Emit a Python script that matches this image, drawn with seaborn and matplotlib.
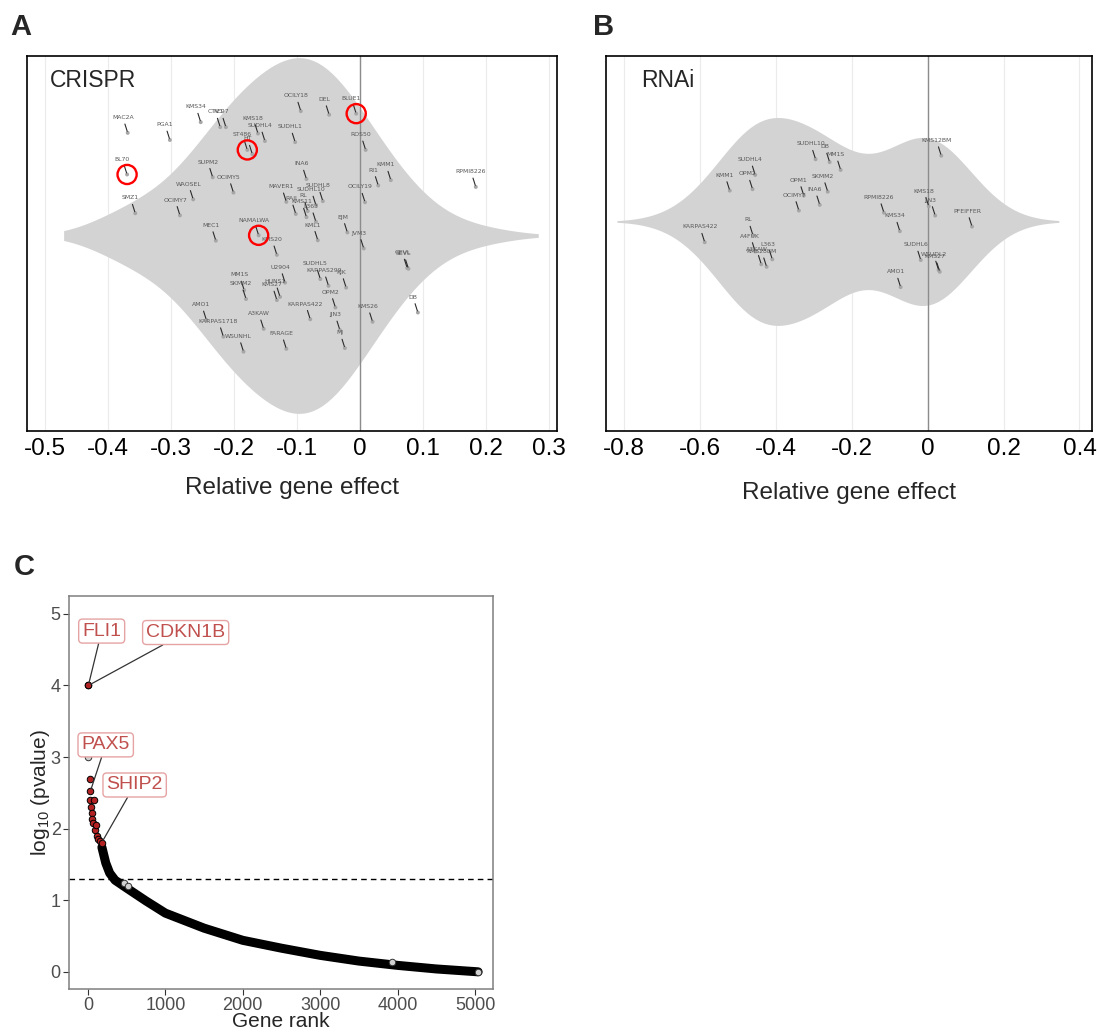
import numpy as np
import pandas as pd
import matplotlib
matplotlib.use("Agg")
import matplotlib.pyplot as plt
import seaborn as sns

# ---------------- data ----------------
# Panel A (CRISPR): cell line, relative gene effect, vertical jitter (violin-width units)
crispr_lines = ["MAC2A", "PGA1", "KMS34", "CTV1", "KE97", "KMS18", "SUDHL4", "ST486", "HT",
                "BL70", "SUPM2", "OCIMY5", "WAOSEL", "SMZ1", "OCIMY7", "MAVER1", "MEC1",
                "NAMALWA", "KMS20", "OCILY18", "DEL", "BLUE1", "SUDHL1", "ROS50", "INA6",
                "RI1", "KMM1", "RPMI8226", "SUDHL8", "SUDHL10", "RAJI", "KMS11", "RL", "L363",
                "KML1", "OCILY19", "EJM", "JVM3", "U2904", "HUNS1", "KMS27", "SUDHL5",
                "KARPAS299", "KJK", "OPM2", "KARPAS422", "JJN3", "MJ", "KMS26", "SEVL", "GEVL",
                "DB", "A3KAW", "FARAGE", "MM1S", "SKMM2", "AMO1", "KARPAS1718", "WSUNHL"]
crispr_effect = [-0.369, -0.302, -0.253, -0.222, -0.213, -0.162, -0.151, -0.179, -0.171,
                 -0.370, -0.234, -0.201, -0.265, -0.357, -0.286, -0.117, -0.229,
                 -0.161, -0.132, -0.094, -0.049, -0.006, -0.103, 0.009, -0.085,
                 0.029, 0.049, 0.184, -0.059, -0.070, -0.102, -0.085, -0.083, -0.070,
                 -0.067, 0.008, -0.020, 0.006, -0.119, -0.127, -0.132, -0.063,
                 -0.050, -0.022, -0.039, -0.079, -0.032, -0.024, 0.020, 0.077, 0.075,
                 0.092, -0.153, -0.117, -0.184, -0.181, -0.244, -0.217, -0.185]
crispr_jitter = [0.290, 0.270, 0.320, 0.306, 0.306, 0.288, 0.267, 0.242, 0.230,
                 0.173, 0.165, 0.122, 0.103, 0.064, 0.058, 0.096, -0.013,
                 0.002, -0.053, 0.351, 0.341, 0.344, 0.264, 0.242, 0.160,
                 0.142, 0.157, 0.138, 0.098, 0.087, 0.062, 0.053, 0.070, 0.040,
                 -0.012, 0.095, 0.010, -0.035, -0.131, -0.171, -0.180, -0.121,
                 -0.140, -0.145, -0.201, -0.234, -0.264, -0.315, -0.241, -0.092, -0.090,
                 -0.215, -0.261, -0.317, -0.152, -0.177, -0.236, -0.283, -0.325]
crispr_circled = ["BL70", "ST486", "BLUE1", "NAMALWA"]
crispr_ticks = [-0.5, -0.4, -0.3, -0.2, -0.1, 0.0, 0.1, 0.2, 0.3]
crispr_ticklabels = ["-0.5", "-0.4", "-0.3", "-0.2", "-0.1", "0", "0.1", "0.2", "0.3"]

# Panel B (RNAi)
rnai_lines = ["SUDHL10", "DB", "MM1S", "SUDHL4", "KMM1", "OPM2", "OPM1", "SKMM2", "INA6",
              "OCIMY7", "KARPAS422", "RL", "A4FUK", "L363", "A3KAW", "KMS28BM", "KMS12BM",
              "RPMI8226", "KMS34", "KMS18", "JJN3", "PFEIFFER", "SUDHL6", "KMS27", "WSUDL2",
              "AMO1"]
rnai_effect = [-0.295, -0.258, -0.229, -0.454, -0.521, -0.461, -0.326, -0.263, -0.284,
               -0.339, -0.587, -0.460, -0.454, -0.409, -0.438, -0.424, 0.036,
               -0.115, -0.073, 0.003, 0.020, 0.117, -0.018, 0.032, 0.029,
               -0.071]
rnai_jitter = [0.176, 0.168, 0.146, 0.132, 0.088, 0.092, 0.074, 0.085, 0.048,
               0.032, -0.057, -0.037, -0.083, -0.105, -0.119, -0.126, 0.186,
               0.026, -0.026, 0.044, 0.018, -0.013, -0.107, -0.140, -0.135,
               -0.183]
rnai_ticks = [-0.8, -0.6, -0.4, -0.2, 0.0, 0.2, 0.4]
rnai_ticklabels = ["-0.8", "-0.6", "-0.4", "-0.2", "0", "0.2", "0.4"]

# Panel C: gene rank vs -log10 p
sig_rank = [3, 6, 22, 30, 31, 40, 49, 57, 70, 73, 95, 104, 117, 135, 157, 175]
sig_value = [4.0, 4.0, 2.70, 2.52, 2.40, 2.30, 2.22, 2.14, 2.08, 2.40, 1.98, 2.05, 1.90,
             1.86, 1.83, 1.80]
curve_rank = [180, 230, 280, 350, 500, 750, 1000, 1500, 2000, 2500, 3000, 3500, 4000, 4500, 5040]
curve_value = [1.74, 1.52, 1.38, 1.28, 1.17, 0.99, 0.82, 0.61, 0.44, 0.33, 0.23, 0.15, 0.09,
               0.04, 0.0]
ns_rank = [3, 470, 515, 3930, 5040]
ns_value = [3.0, 1.24, 1.20, 0.135, 0.0]
label_genes = ["FLI1", "CDKN1B", "PAX5", "SHIP2"]
label_rank = [5, 5, 30, 175]
label_value = [4.0, 4.0, 2.52, 1.80]
label_text_rank = [177, 1262, 229, 603]
label_text_value = [4.76, 4.74, 3.17, 2.61]
pvalue_cutoff = 1.3

# ---------------- style ----------------
sns.set_theme(style="white")
plt.rcParams["font.family"] = ["Liberation Sans", "DejaVu Sans"]
plt.rcParams["mathtext.default"] = "regular"

W, H = 1099, 1032
fig = plt.figure(figsize=(W / 100, H / 100), dpi=100)
fig.patch.set_facecolor("white")


def px_axes(x0, y0, x1, y1):
    return fig.add_axes([x0 / W, 1 - y1 / H, (x1 - x0) / W, (y1 - y0) / H])


def nrd0(v):
    v = np.asarray(v)
    sd = np.std(v, ddof=1)
    iqr = np.subtract(*np.percentile(v, [75, 25]))
    return 0.9 * min(sd, iqr / 1.34) * len(v) ** -0.2, sd


def violin_panel(ax, names, effect, jitter, width, ylim, xlim, ticks, ticklabels, title,
                 adjust, extend, circled=(), title_x=0.043):
    df = pd.DataFrame({"line": names, "effect": effect, "jit": jitter})
    bw, sd = nrd0(effect)
    sns.violinplot(data=df, x="effect", ax=ax, orient="h", color="#D3D3D3", saturation=1,
                   linewidth=0, inner=None, bw_method=bw / sd, bw_adjust=adjust,
                   cut=extend / (bw * adjust), width=width)
    for c in ax.collections:
        c.set_edgecolor("none")
    ax.set_ylim(*ylim)
    ax.set_xlim(*xlim)
    ax.set_xticks(ticks)
    ax.set_xticklabels(ticklabels)
    ax.set_yticks([])
    ax.grid(axis="x", color="#EBEBEB", lw=0.8)
    ax.set_axisbelow(True)
    ax.axvline(0, color="#8C8C8C", lw=1.0, zorder=2)
    ax.tick_params(axis="x", length=0, pad=5, labelsize=17.5, labelcolor="black")
    ax.set_ylabel("")
    for s in ax.spines.values():
        s.set_visible(True)
        s.set_color("black")
        s.set_linewidth(1.2)
    sns.scatterplot(data=df, x="effect", y="jit", ax=ax, s=8, color="#A6A6A6",
                    edgecolor="none", zorder=4, legend=False)
    for _, r in df.iterrows():
        ax.annotate(r["line"], xy=(r["effect"], r["jit"]), xytext=(-3.5, 11),
                    textcoords="offset points", ha="center", va="center", fontsize=4.4,
                    color="#595959", family="DejaVu Sans", zorder=5,
                    arrowprops=dict(arrowstyle="-", color="#2b2b2b", lw=0.8,
                                    shrinkA=0.5, shrinkB=1.2))
    if circled:
        cd = df[df["line"].isin(circled)]
        ax.scatter(cd["effect"], cd["jit"], s=190, facecolors="none", edgecolors="#FF0000",
                   linewidths=1.7, zorder=6)
    ax.text(title_x, 0.935, title, transform=ax.transAxes, fontsize=16.5, va="center",
            ha="left")


# Panel A
axA = px_axes(27, 56, 557, 431)
violin_panel(axA, crispr_lines, crispr_effect, crispr_jitter, 1.0, (-0.548, 0.506),
             (-0.529, 0.313), crispr_ticks, crispr_ticklabels, "CRISPR",
             adjust=1.4, extend=0.10, circled=crispr_circled)
axA.set_xlabel("Relative gene effect", fontsize=17.5, labelpad=12)

# Panel B
axB = px_axes(606, 56, 1092, 431)
violin_panel(axB, rnai_lines, rnai_effect, rnai_jitter, 0.584, (-0.587, 0.466),
             (-0.847, 0.433), rnai_ticks, rnai_ticklabels, "RNAi",
             adjust=1.0, extend=0.23, title_x=0.072)
axB.set_xlabel("Relative gene effect", fontsize=17.5, labelpad=16)

# Panel C
axC = px_axes(69, 596, 493, 989)
sns.lineplot(x=curve_rank, y=curve_value, ax=axC, color="black", linewidth=6.5,
             solid_capstyle="round", zorder=2)
sns.scatterplot(x=ns_rank, y=ns_value, ax=axC, s=22, color="#D0D0D0", edgecolor="#333333",
                linewidth=0.7, zorder=3)
sns.scatterplot(x=sig_rank, y=sig_value, ax=axC, s=22, color="#B22222", edgecolor="black",
                linewidth=0.7, zorder=4)
axC.axhline(pvalue_cutoff, color="black", lw=1.0, ls=(0, (4, 3)), zorder=1)
for g, xr, yv, tx, ty in zip(label_genes, label_rank, label_value, label_text_rank,
                             label_text_value):
    axC.annotate(g, xy=(xr, yv), xytext=(tx, ty), textcoords="data", ha="center",
                 va="center", fontsize=14, color="#C0504D", zorder=6,
                 bbox=dict(boxstyle="round,pad=0.18,rounding_size=0.2", fc="white",
                           ec="#E6A3A3", lw=1.0),
                 arrowprops=dict(arrowstyle="-", color="#333333", lw=0.9, shrinkA=0,
                                 shrinkB=2))
axC.set_xlim(-245, 5232)
axC.set_ylim(-0.24, 5.25)
axC.set_xticks([0, 1000, 2000, 3000, 4000, 5000])
axC.set_yticks([0, 1, 2, 3, 4, 5])
axC.tick_params(axis="both", direction="out", length=4, width=0.8, color="#333333",
                labelsize=13, labelcolor="#4D4D4D", pad=2, bottom=True, left=True)
for s in axC.spines.values():
    s.set_color("#7F7F7F")
    s.set_linewidth(1.1)
axC.set_xlabel("Gene rank", fontsize=15, labelpad=-2)
axC.set_ylabel("log$_{10}$ (pvalue)", fontsize=15, labelpad=-1)

# panel letters
fig.text(10 / W, 1 - 27 / H, "A", fontsize=21, fontweight="bold", va="center", ha="left")
fig.text(593 / W, 1 - 27 / H, "B", fontsize=21, fontweight="bold", va="center", ha="left")
fig.text(14 / W, 1 - 567 / H, "C", fontsize=21, fontweight="bold", va="center", ha="left")

fig.savefig("out.png", dpi=100, facecolor="white")
